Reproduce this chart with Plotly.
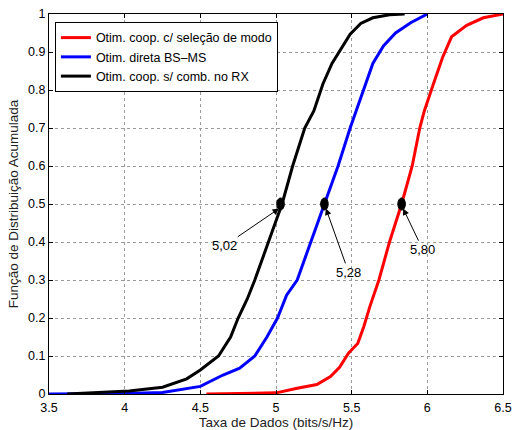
import plotly.graph_objects as go

black_x = [3.62, 4.03, 4.25, 4.41, 4.5, 4.62, 4.70, 4.75, 4.81, 4.86, 4.95, 5.04, 5.11, 5.19, 5.25, 5.31,
           5.37, 5.44, 5.49, 5.56, 5.64, 5.75, 5.85]
black_y = [0, 0.008, 0.018, 0.04, 0.063, 0.10, 0.15, 0.20, 0.25, 0.30, 0.40, 0.50, 0.60, 0.70, 0.745, 0.816,
           0.87, 0.916, 0.947, 0.975, 0.99, 0.998, 1.0]

blue_x = [3.5, 4.0, 4.25, 4.5, 4.65, 4.76, 4.86, 4.94, 5.01, 5.07, 5.14, 5.23, 5.32, 5.41, 5.49, 5.53,
          5.59, 5.64, 5.71, 5.79, 5.89, 5.99, 6.0]
blue_y = [0, 0.001, 0.004, 0.02, 0.05, 0.068, 0.10, 0.15, 0.20, 0.26, 0.30, 0.40, 0.50, 0.60, 0.70, 0.745,
          0.816, 0.87, 0.916, 0.95, 0.977, 0.998, 1.0]

red_x = [4.54, 5.0, 5.14, 5.27, 5.36, 5.42, 5.48, 5.54, 5.58, 5.62, 5.68, 5.75, 5.83, 5.90, 5.95, 5.98,
         6.04, 6.10, 6.16, 6.26, 6.37, 6.5]
red_y = [0, 0.003, 0.015, 0.025, 0.046, 0.07, 0.108, 0.133, 0.177, 0.23, 0.30, 0.40, 0.50, 0.60, 0.70, 0.745,
         0.816, 0.885, 0.94, 0.97, 0.99, 1.0]

series_names = ["Otim. coop. c/ seleção de modo", "Otim. direta BS\u2013MS", "Otim. coop. s/ comb. no RX"]

# Median markers and their labels
median_x = [5.03, 5.32, 5.83]
median_y = [0.5, 0.5, 0.5]
median_labels = ["5,02", "5,28", "5,80"]
label_x = [4.66, 5.48, 5.97]
label_y = [0.39, 0.32, 0.38]

x_ticks = [3.5, 4, 4.5, 5, 5.5, 6, 6.5]
x_ticklabels = ["3.5", "4", "4.5", "5", "5.5", "6", "6.5"]
y_ticks = [0, 0.1, 0.2, 0.3, 0.4, 0.5, 0.6, 0.7, 0.8, 0.9, 1]
y_ticklabels = ["0", "0.1", "0.2", "0.3", "0.4", "0.5", "0.6", "0.7", "0.8", "0.9", "1"]

FONT = "Liberation Sans, Arial, sans-serif"

fig = go.Figure()
fig.add_trace(go.Scatter(x=red_x, y=red_y, mode="lines", name=series_names[0],
                         line=dict(color="#ff0000", width=3)))
fig.add_trace(go.Scatter(x=blue_x, y=blue_y, mode="lines", name=series_names[1],
                         line=dict(color="#0000ff", width=3)))
fig.add_trace(go.Scatter(x=black_x, y=black_y, mode="lines", name=series_names[2],
                         line=dict(color="#000000", width=3)))

# Ellipse markers at the medians
for mx, my in zip(median_x, median_y):
    fig.add_shape(type="circle", xref="x", yref="y",
                  x0=mx - 0.025, x1=mx + 0.025, y0=my - 0.016, y1=my + 0.016,
                  fillcolor="black", line=dict(color="black", width=1))

for mx, my, lab, lx, ly in zip(median_x, median_y, median_labels, label_x, label_y):
    fig.add_annotation(x=mx - 0.01 if lx < mx else mx + 0.01, y=my - 0.012,
                       ax=lx, ay=ly, axref="x", ayref="y",
                       text=lab, showarrow=True, arrowhead=2, arrowsize=1.3,
                       arrowwidth=1, arrowcolor="black",
                       font=dict(family=FONT, size=13, color="black"))

axis_common = dict(showline=True, linecolor="black", linewidth=1, mirror="ticks",
                   ticks="inside", ticklen=4, tickcolor="black", automargin=False,
                   showgrid=True, gridcolor="#9a9a9a", griddash="dot", gridwidth=1,
                   zeroline=False, tickfont=dict(family=FONT, size=12.5, color="black"))

fig.update_xaxes(range=[3.5, 6.5], tickvals=x_ticks, ticktext=x_ticklabels, ticklabelstandoff=2,
                 title=dict(text="Taxa de Dados (bits/s/Hz)", font=dict(family=FONT, size=13.5, color="#222"),
                            standoff=3),
                 **axis_common)
fig.update_yaxes(range=[0, 1], tickvals=y_ticks, ticktext=y_ticklabels,
                 title=dict(text="Função de Distribuição Acumulada", font=dict(family=FONT, size=13.5, color="#222"),
                            standoff=6),
                 **axis_common)

fig.update_layout(
    width=512, height=430,
    margin=dict(l=49, r=9, t=14, b=36),
    paper_bgcolor="white", plot_bgcolor="white",
    font=dict(family=FONT, size=12, color="black"),
    legend=dict(x=0.013, y=0.979, xanchor="left", yanchor="top",
                bgcolor="white", bordercolor="black", borderwidth=1,
                font=dict(family=FONT, size=12.5, color="black"),
                tracegroupgap=0, itemwidth=30),
    showlegend=True,
)

fig.write_html("out.html", config={"displayModeBar": False},
               post_script="document.body.style.margin='0px';document.body.style.padding='0px';")
